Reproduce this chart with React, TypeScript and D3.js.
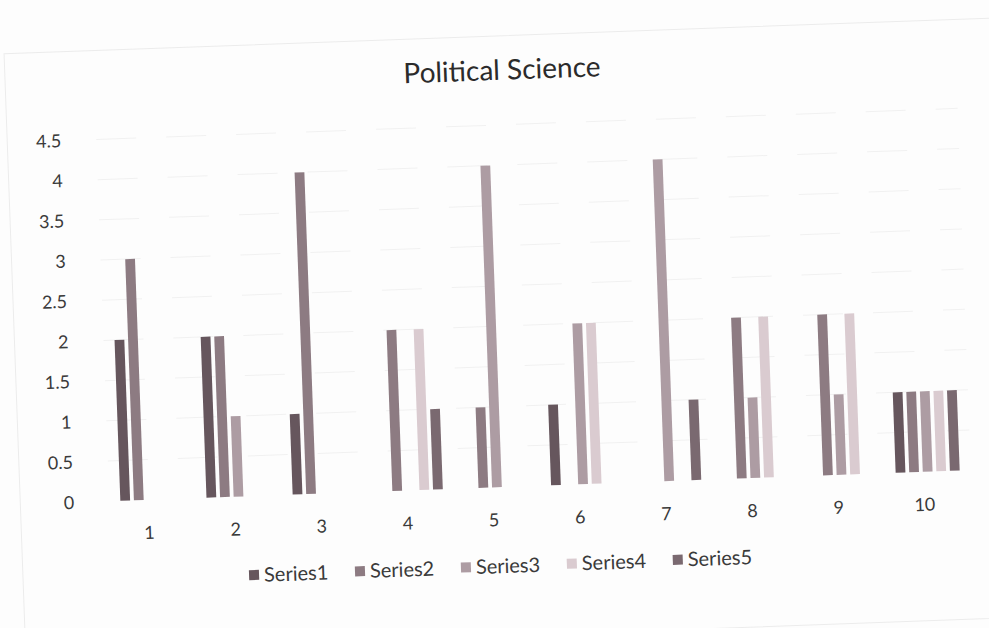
import * as React from "react"
import * as d3 from "d3"

// values
const categories = ["1", "2", "3", "4", "5", "6", "7", "8", "9", "10"]
const seriesNames = ["Series1", "Series2", "Series3", "Series4", "Series5"]
const series1 = [2, 2, 1, 0, 0, 1, 0, 0, 0, 1]
const series2 = [3, 2, 4, 2, 1, 0, 0, 2, 2, 1]
const series3 = [0, 1, 0, 0, 4, 2, 4, 1, 1, 1]
const series4 = [0, 0, 0, 2, 0, 2, 0, 2, 2, 1]
const series5 = [0, 0, 0, 1, 0, 0, 1, 0, 0, 1]
const yTicks = [0, 0.5, 1, 1.5, 2, 2.5, 3, 3.5, 4, 4.5]

const seriesValues = [series1, series2, series3, series4, series5]
const colors = ["#66565d", "#8d7b82", "#ad9ca3", "#dacbd0", "#7a6970"]

const W = 989
const H = 628
const font = "Lato, 'Open Sans', sans-serif"

export default function App(): JSX.Element {
    const margin = { left: 103, right: 965, top: 125, bottom: 487 }

    // category scale
    const x = d3.scaleBand<string>()
        .domain(categories)
        .range([margin.left, margin.right])
        .paddingInner(0.2)
        .paddingOuter(0.1)

    // series inside each category
    const xs = d3.scaleBand<string>()
        .domain(seriesNames)
        .range([0, x.bandwidth()])
        .paddingInner(0.28)
        .paddingOuter(0.18)

    const y = d3.scaleLinear()
        .domain([0, 4.5])
        .range([margin.bottom, margin.top])

    const legendX = d3.scaleBand<string>()
        .domain(seriesNames)
        .range([240, 770])

    return (
        <svg width={W} height={H} style={{ position: "absolute", left: 0, top: 0, background: "#fdfdfd" }}>
            <g transform="rotate(-2.07, 500, 320)">
                {/* chart border */}
                <rect x={14} y={36} width={1000} height={600} fill="none" stroke="#ececec" strokeWidth={1} />

                {/* title */}
                <text x={511} y={80} textAnchor="middle" fontFamily={font} fontSize={28} fill="#2b2b2b">
                    Political Science
                </text>

                {/* gridlines */}
                {yTicks.slice(1).map((t) => (
                    <line key={"g" + t} x1={margin.left} x2={margin.right} y1={y(t)} y2={y(t)}
                        stroke="#f1f1f1" strokeWidth={1} strokeDasharray="40 30" />
                ))}

                {/* y axis labels */}
                {yTicks.map((t) => (
                    <text key={"y" + t} x={68} y={y(t)} dy="0.35em" textAnchor="end"
                        fontFamily={font} fontSize={18} fill="#3a3a3a">
                        {String(t)}
                    </text>
                ))}

                {/* bars */}
                {categories.map((c, i) => (
                    <g key={"c" + c} transform={"translate(" + x(c) + ",0)"}>
                        {seriesNames.map((s, j) => {
                            const v = seriesValues[j][i]
                            if (!v) return null
                            return (
                                <rect key={s} x={xs(s)} y={y(v)} width={xs.bandwidth()}
                                    height={y(0) - y(v)} fill={colors[j]} />
                            )
                        })}
                    </g>
                ))}

                {/* category labels */}
                {categories.map((c) => (
                    <text key={"x" + c} x={(x(c) as number) + x.bandwidth() / 2 - 4} y={526}
                        textAnchor="middle" fontFamily={font} fontSize={18} fill="#3a3a3a">
                        {c}
                    </text>
                ))}

                {/* legend */}
                {seriesNames.map((s, j) => (
                    <g key={"l" + s} transform={"translate(" + legendX(s) + ",566)"}>
                        <rect x={0} y={-5} width={10} height={10} fill={colors[j]} />
                        <text x={15} y={0} dy="0.35em" fontFamily={font} fontSize={20} fill="#3a3a3a">
                            {s}
                        </text>
                    </g>
                ))}
            </g>
        </svg>
    )
}
